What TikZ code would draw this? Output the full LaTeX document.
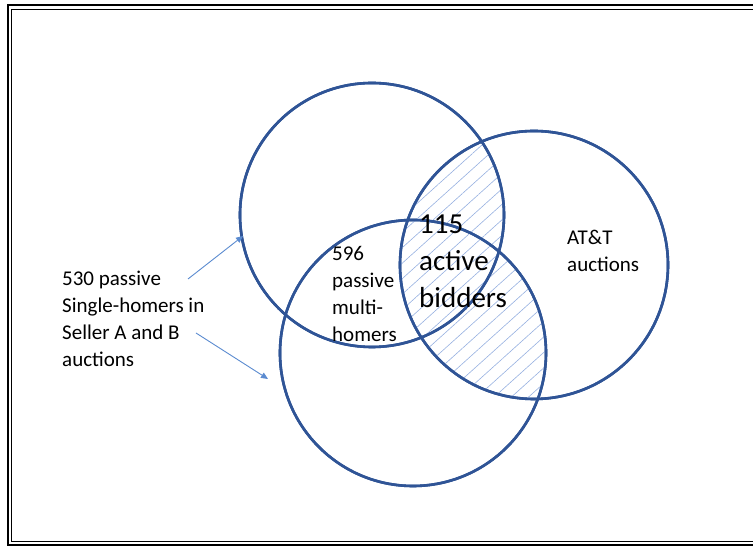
\documentclass[tikz,border=0pt]{standalone}
\usepackage{fontspec}
\setmainfont{Carlito}
\usetikzlibrary{arrows.meta,patterns.meta}
\definecolor{vennblue}{RGB}{47,84,150}
\definecolor{arrowblue}{RGB}{91,139,208}
\definecolor{hatchblue}{RGB}{150,176,224}
\tikzset{
  vcircle/.style={draw=vennblue,line width=2.6pt,circle,inner sep=0pt},
  txt/.style={font=\fontsize{21}{27}\selectfont,align=left,anchor=west,inner sep=0pt},
  bigtxt/.style={font=\fontsize{29}{37}\selectfont,align=left,anchor=west,inner sep=0pt},
  pointer/.style={-{Triangle[length=7pt,width=6pt]},arrowblue,line width=0.9pt},
  hatch/.style={pattern={Lines[angle=42,distance=11.5pt,line width=0.6pt]},pattern color=hatchblue}
}
\begin{document}
\begin{tikzpicture}[x=1pt,y=1pt]
  \useasboundingbox (0,0) rectangle (753,548);
  % double frame
  \draw[line width=2pt] (7.5,2.5) rectangle (770,543);
  \draw[line width=1.2pt] (11.5,6.5) rectangle (770,538.5);

  % the three sets
  \node[vcircle,minimum size=264pt] (sellerA) at (372,333) {};
  \node[vcircle,minimum size=266pt] (sellerB) at (413,195) {};
  \node[vcircle,minimum size=268pt] (att) at (534,283) {};

  % active bidders: AT&T overlap with A or B
  \begin{scope}
    \clip (att.center) circle[radius=134];
    \fill[hatch] (sellerA.center) circle[radius=132] (sellerB.center) circle[radius=133];
  \end{scope}
  \node[vcircle,minimum size=264pt] at (sellerA.center) {};
  \node[vcircle,minimum size=266pt] at (sellerB.center) {};
  \node[vcircle,minimum size=268pt] at (att.center) {};

  \node[bigtxt] (active) at (419,287) {115\\active\\bidders};
  \node[txt] (multi) at (332,254) {596\\passive\\multi-\\homers};
  \node[txt] (attlbl) at (567,297) {AT\&T\\auctions};
  \node[txt] (single) at (62,229) {530 passive\\Single-homers in\\Seller A and B\\auctions};

  \coordinate (tailA) at (188,269);
  \coordinate (tipA) at (243,312);
  \coordinate (tailB) at (196,215);
  \coordinate (tipB) at (268,169);
  \draw[pointer] (tailA) -- (tipA);
  \draw[pointer] (tailB) -- (tipB);
\end{tikzpicture}
\end{document}
